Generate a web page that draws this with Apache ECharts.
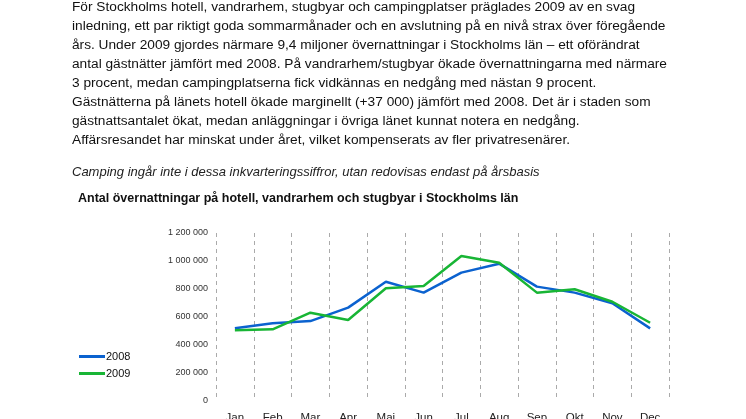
<!DOCTYPE html>
<html><head><meta charset="utf-8">
<script src="https://cdn.jsdelivr.net/npm/echarts@6/dist/echarts.min.js"></script>
<style>html,body{margin:0;padding:0;background:#fff}#c{width:746px;height:419px}</style>
</head><body><div id="c"></div>
<script>
const months = ['Jan','Feb','Mar','Apr','Mai','Jun','Jul','Aug','Sep','Okt','Nov','Dec'];
const s2008 = [519000,555000,571000,667000,852000,774000,917000,981000,817000,774000,698000,519000];
const s2009 = [505000,512000,631000,579000,805000,821000,1036000,988000,774000,798000,709000,559000];
const paragraph = [
 'För Stockholms hotell, vandrarhem, stugbyar och campingplatser präglades 2009 av en svag',
 'inledning, ett par riktigt goda sommarmånader och en avslutning på en nivå strax över föregående',
 'års. Under 2009 gjordes närmare 9,4 miljoner övernattningar i Stockholms län – ett oförändrat',
 'antal gästnätter jämfört med 2008. På vandrarhem/stugbyar ökade övernattningarna med närmare',
 '3 procent, medan campingplatserna fick vidkännas en nedgång med nästan 9 procent.',
 'Gästnätterna på länets hotell ökade marginellt (+37 000) jämfört med 2008. Det är i staden som',
 'gästnattsantalet ökat, medan anläggningar i övriga länet kunnat notera en nedgång.',
 'Affärsresandet har minskat under året, vilket kompenserats av fler privatresenärer.'
];
const note = 'Camping ingår inte i dessa inkvarteringssiffror, utan redovisas endast på årsbasis';
const chartTitle = 'Antal övernattningar på hotell, vandrarhem och stugbyar i Stockholms län';

const font = 'Liberation Sans, Arial, sans-serif';
const graphics = paragraph.map((t, i) => ({
  type: 'text', left: 72, top: 7 + i * 19 - 7,
  style: { text: t, font: '13.7px ' + font, fill: '#111' }
}));
graphics.push({ type: 'text', left: 72, top: 166, style: { text: note, font: 'italic 13px ' + font, fill: '#222' } });
graphics.push({ type: 'text', left: 78, top: 192, style: { text: chartTitle, font: 'bold 12.5px ' + font, fill: '#111' } });

const chart = echarts.init(document.getElementById('c'), null, { renderer: 'canvas' });
chart.setOption({
  animation: false,
  graphic: graphics,
  legend: {
    orient: 'vertical', left: 74, top: 346, itemWidth: 26, itemHeight: 3, itemGap: 6,
    icon: 'rect',
    textStyle: { fontFamily: font, fontSize: 11, color: '#111', padding: [0, 0, 0, -4] },
    data: ['2008', '2009']
  },
  grid: { left: 216, right: 77, top: 233, bottom: 18, containLabel: false, outerBoundsMode: 'none' },
  xAxis: {
    type: 'category', data: months, boundaryGap: true,
    axisLine: { show: false }, axisTick: { show: false },
    axisLabel: { fontFamily: font, fontSize: 11.5, color: '#222', margin: 11 },
    splitLine: { show: true, lineStyle: { type: [4, 4], color: '#aaa', width: 1 } }
  },
  yAxis: {
    type: 'value', min: 0, max: 1200000, interval: 200000,
    axisLine: { show: false }, axisTick: { show: false }, splitLine: { show: false },
    axisLabel: {
      fontFamily: font, fontSize: 9, color: '#333', margin: 8,
      formatter: v => String(v).replace(/\B(?=(\d{3})+(?!\d))/g, ' ')
    }
  },
  series: [
    { name: '2008', type: 'line', data: s2008, symbol: 'none', lineStyle: { width: 2.5, color: '#0b62cf' }, itemStyle: { color: '#0b62cf' } },
    { name: '2009', type: 'line', data: s2009, symbol: 'none', lineStyle: { width: 2.5, color: '#18b535' }, itemStyle: { color: '#18b535' } }
  ]
});
</script></body></html>
